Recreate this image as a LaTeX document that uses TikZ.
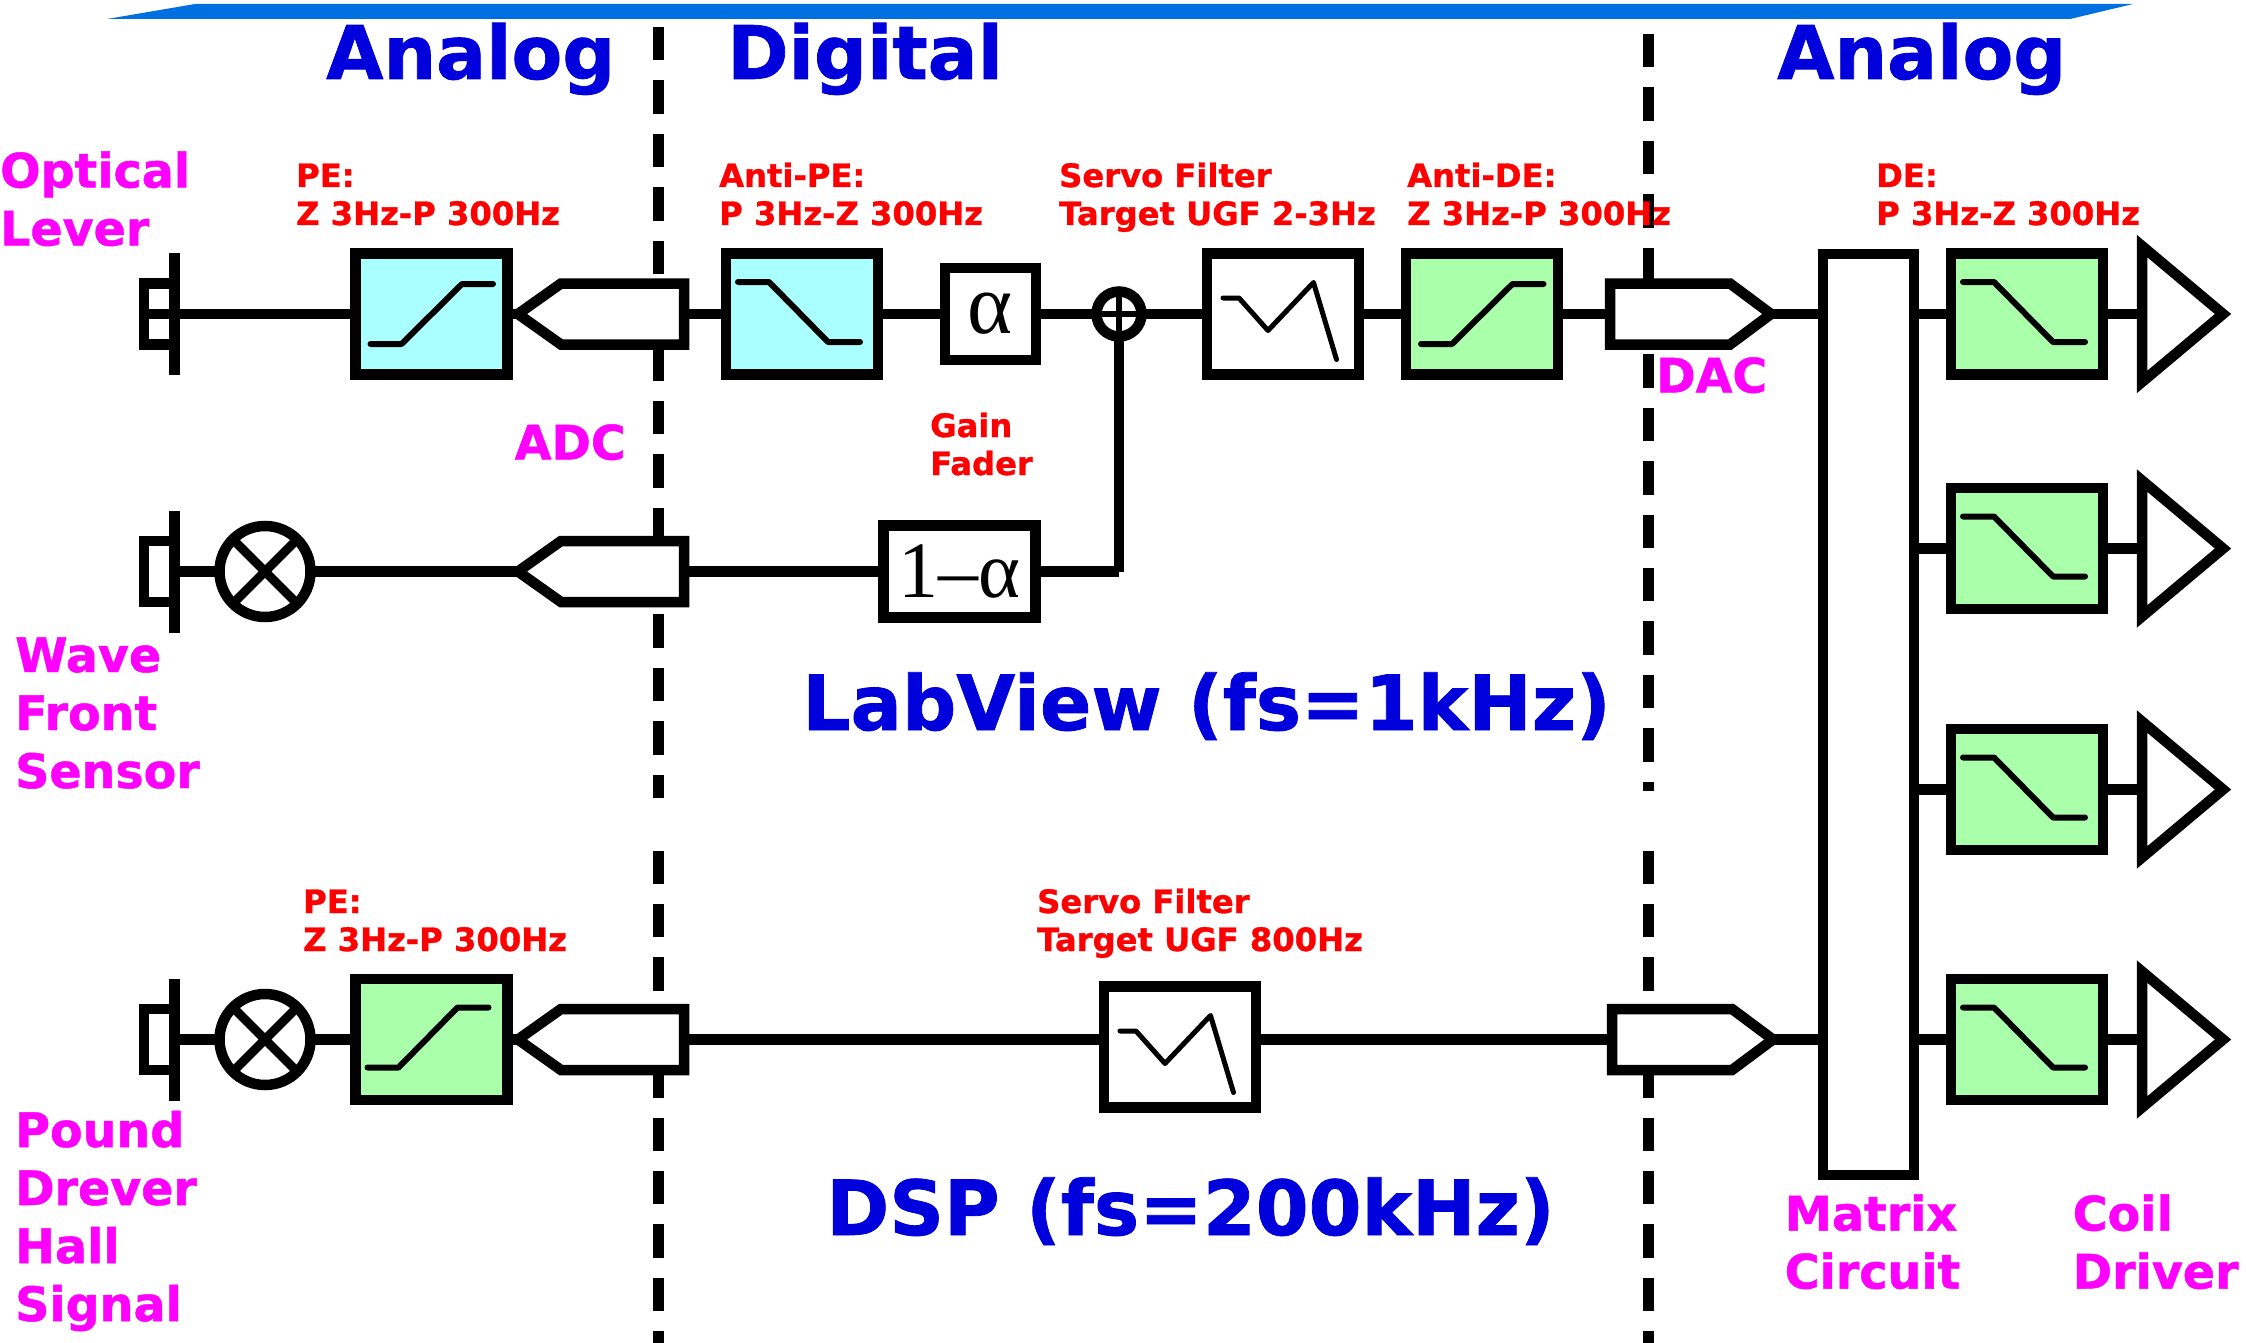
\documentclass[tikz,border=0pt]{standalone}
\usepackage{fontspec}
\setmainfont{DejaVu Sans}[BoldFeatures={FakeBold=1}]
\newfontfamily\symfont{Liberation Serif}
\definecolor{bandblue}{HTML}{0070E0}
\definecolor{titleblue}{HTML}{0000DD}
\definecolor{magentalabel}{HTML}{FF00FF}
\definecolor{redlabel}{HTML}{FF0000}
\definecolor{cyanfill}{HTML}{AAFFFF}
\definecolor{greenfill}{HTML}{AAFFAA}
\tikzset{
  wire/.style={line width=10.5pt,line cap=butt},
  blockbox/.style={draw=black,line width=10.5pt,fill=white,rectangle,inner sep=0pt,outer sep=0pt,minimum width=152pt,minimum height=121pt},
  cyanbox/.style={blockbox,fill=cyanfill},
  greenbox/.style={blockbox,fill=greenfill},
  hidden/.style={inner sep=0pt,outer sep=0pt,rectangle},
  outline/.style={draw=black,line width=10.5pt,fill=white,miter limit=20,line join=miter},
  curve/.style={draw=black,line width=6pt,line cap=round,line join=round},
  divider/.style={draw=black,line width=11pt,dash pattern=on 33.4pt off 20pt},
  title/.style={inner sep=0pt,anchor=base west,text=titleblue,font=\fontsize{74}{74}\selectfont\bfseries},
  bigtitle/.style={title,font=\fontsize{76}{76}\selectfont\bfseries},
  maglabel/.style={inner sep=0pt,anchor=base west,align=left,text=magentalabel,font=\fontsize{47.5}{58}\selectfont\bfseries},
  redtext/.style={inner sep=0pt,anchor=base west,align=left,text=redlabel,font=\fontsize{32.2}{38}\selectfont\bfseries},
  gaintext/.style={font=\symfont\fontsize{80}{80}\selectfont,inner sep=0pt},
}
\newcommand{\risecurve}[1]{\draw[curve,shift={(#1.center)}] (-61,30)--(-30,30)--(30.5,-30)--(61.5,-30);}
\newcommand{\fallcurve}[1]{\draw[curve,shift={(#1.center)}] (-64,-32)--(-33,-32)--(26,28)--(58,28);}
\newcommand{\servocurve}[1]{\draw[curve,line width=5pt,shift={(#1.center)}] (-60,-16)--(-44,-16)--(-15,16.5)--(30.5,-31.5)--(53.5,45.5);}
\newcommand{\adcunit}[2]{\node[hidden,minimum width=166pt,minimum height=61pt] (#1) at (601,#2) {};
  \draw[outline,shift={(0,#2)}] (518,0)--(561,-30.5)--(684,-30.5)--(684,30.5)--(561,30.5)--cycle;}
\newcommand{\dacunit}[3]{\node[hidden,minimum width=161pt,minimum height=61pt] (#1) at (1690.5+#3,#2) {};
  \draw[outline,shift={(#3,#2)}] (1610,-30.5)--(1730,-30.5)--(1771,0)--(1730,30.5)--(1610,30.5)--cycle;}
\newcommand{\driver}[2]{\node[hidden,minimum width=81pt,minimum height=136pt] (#1) at (2182.5,#2) {};
  \draw[outline,shift={(0,#2)}] (2142,-68)--(2223,0)--(2142,68)--cycle;}
\newcommand{\sensor}[2]{\node[draw=black,line width=10.5pt,fill=white,hidden,minimum width=31pt,minimum height=61pt] (#1) at (159.5,#2) {};
  \node[hidden,fill=black,minimum width=11pt,minimum height=122pt] (#1bar) at (174.5,#2) {};}
\newcommand{\mixer}[2]{\node[draw=black,line width=10.5pt,fill=white,circle,inner sep=0pt,outer sep=0pt,minimum size=91pt] (#1) at (265,#2) {};
  \draw[line width=9pt] (#1.45)--(#1.225) (#1.135)--(#1.315);}
\begin{document}
\begin{tikzpicture}[x=1pt,y=-1pt]
\useasboundingbox (0,0) rectangle (2246,1343);
% top band
\fill[bandblue] (107,19)--(195,4)--(2133,4)--(2070,19)--cycle;
% dividers
\coordinate (da) at (658.5,27); \coordinate (db) at (658.5,798);
\coordinate (dc) at (658.5,850.6); \coordinate (dd) at (658.5,1343);
\coordinate (de) at (1648.5,34); \coordinate (df) at (1648.5,790.5);
\coordinate (dg) at (1648.5,850.6); \coordinate (dh) at (1648.5,1343);
\draw[divider] (da)--(db);
\draw[divider] (dc)--(dd);
\draw[divider,line width=10.5pt] (de)--(df);
\draw[divider,line width=10.5pt] (dg)--(dh);
% blocks
\node[cyanbox] (pe1) at (431.5,314) {};
\node[cyanbox] (ape) at (802,314) {};
\node[blockbox,minimum width=91pt,minimum height=92pt] (alpha) at (990.5,314) {};
\node[blockbox,minimum height=92pt] (fader) at (959.5,571.5) {};
\node[draw=black,line width=10.5pt,fill=white,circle,inner sep=0pt,outer sep=0pt,minimum size=45pt] (sum) at (1119,314) {};
\node[blockbox] (servo1) at (1283,314) {};
\node[greenbox] (ade) at (1482,314) {};
\node[blockbox,minimum width=91pt,minimum height=921pt] (matrix) at (1868.5,714.5) {};
\node[greenbox] (de1) at (2027,314) {};
\node[greenbox] (de2) at (2027,548.5) {};
\node[greenbox] (de3) at (2027,789.5) {};
\node[greenbox] (de4) at (2027,1039.5) {};
\node[greenbox] (pe3) at (431.5,1039.5) {};
\node[blockbox] (servo3) at (1180,1047) {};
\coordinate (corner) at (1119,571.5);
% sensors and mixers
\sensor{ol}{314}
\sensor{wfs}{571.5}
\sensor{pdh}{1039.5}
\mixer{mx2}{571.5}
\mixer{mx3}{1039.5}
% ADC, DAC, drivers
\adcunit{adc1}{314}
\adcunit{adc2}{571.5}
\adcunit{adc3}{1039.5}
\dacunit{dac1}{314}{0}
\dacunit{dac3}{1039.5}{2}
\driver{cd1}{314}
\driver{cd2}{548.5}
\driver{cd3}{789.5}
\driver{cd4}{1039.5}
% connectors
\draw[wire] (ol.west)--(pe1.west);
\draw[wire] (pe1.east)--(adc1.west);
\draw[wire] (adc1.east)--(ape.west);
\draw[wire] (ape.east)--(alpha.west);
\draw[wire] (alpha.east)--(sum.west);
\draw[wire] (sum.east)--(servo1.west);
\draw[wire] (servo1.east)--(ade.west);
\draw[wire] (ade.east)--(dac1.west);
\draw[wire] (dac1.east)--(matrix.west |- dac1.east);
\draw[wire] (matrix.east |- de1.west)--(de1.west);
\draw[wire] (matrix.east |- de2.west)--(de2.west);
\draw[wire] (matrix.east |- de3.west)--(de3.west);
\draw[wire] (matrix.east |- de4.west)--(de4.west);
\draw[wire] (de1.east)--(cd1.west);
\draw[wire] (de2.east)--(cd2.west);
\draw[wire] (de3.east)--(cd3.west);
\draw[wire] (de4.east)--(cd4.west);
\draw[wire] (wfsbar.east)--(mx2.west);
\draw[wire] (mx2.east)--(adc2.west);
\draw[wire] (adc2.east)--(fader.west);
\draw[wire] (fader.east)--(corner);
\draw[wire] (sum.south)--(corner);
\draw[wire] (pdhbar.east)--(mx3.west);
\draw[wire] (mx3.east)--(pe3.west);
\draw[wire] (pe3.east)--(adc3.west);
\draw[wire] (adc3.east)--(servo3.west |- adc3.east);
\draw[wire] (servo3.east |- adc3.east)--(dac3.west);
\draw[wire] (dac3.east)--(matrix.west |- dac3.east);
\draw[line width=6pt] (sum.north)--(sum.south) (sum.west)--(sum.east);
% filter curves
\risecurve{pe1}
\fallcurve{ape}
\servocurve{servo1}
\risecurve{ade}
\fallcurve{de1}
\fallcurve{de2}
\fallcurve{de3}
\fallcurve{de4}
\draw[curve,shift={(pe3.center)}] (-64,28)--(-33,28)--(26,-32)--(57,-32);
\servocurve{servo3}
% gain symbols
\node[gaintext,font=\symfont\fontsize{86}{86}\selectfont] (alphasym) at (alpha.center) {α};
\node[gaintext] (fadersym) at (fader.center) {1–α};
% titles
\node[title] (t1) at (326,79) {Analog};
\node[title] (t2) at (727,79) {Digital};
\node[title] (t3) at (1777,79) {Analog};
\node[bigtitle] (t4) at (802,730) {LabView (fs=1kHz)};
\node[bigtitle] (t5) at (826,1235) {DSP (fs=200kHz)};
% magenta labels (given by last baseline)
\node[maglabel] (l1) at (0,245.5) {Optical\\Lever};
\node[maglabel] (l2) at (15,788) {Wave\\Front\\Sensor};
\node[maglabel] (l3) at (15,1321) {Pound\\Drever\\Hall\\Signal};
\node[maglabel] (l4) at (514.5,459.5) {ADC};
\node[maglabel] (l5) at (1656,392.5) {DAC};
\node[maglabel] (l6) at (1784.5,1288.5) {Matrix\\Circuit};
\node[maglabel] (l7) at (2072.5,1288.5) {Coil\\Driver};
% red labels
\node[redtext] (r1) at (296,225) {PE:\\Z 3Hz-P 300Hz};
\node[redtext] (r2) at (719,225) {Anti-PE:\\P 3Hz-Z 300Hz};
\node[redtext] (r3) at (1059,225) {Servo Filter\\Target UGF 2-3Hz};
\node[redtext] (r4) at (1407,225) {Anti-DE:\\Z 3Hz-P 300Hz};
\node[redtext] (r5) at (1876,225) {DE:\\P 3Hz-Z 300Hz};
\node[redtext] (r6) at (930,475) {Gain\\Fader};
\node[redtext] (r7) at (303,951) {PE:\\Z 3Hz-P 300Hz};
\node[redtext] (r8) at (1037,951) {Servo Filter\\Target UGF 800Hz};
\end{tikzpicture}
\end{document}
